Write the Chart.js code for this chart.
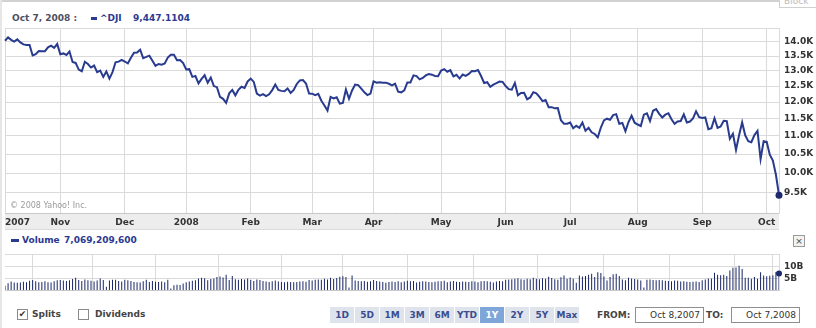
<!DOCTYPE html>
<html>
<head>
<meta charset="utf-8">
<title>^DJI 1Y</title>
<script src="https://cdn.jsdelivr.net/npm/chart.js@4.4.1/dist/chart.umd.min.js"></script>
<style>
  body { margin:0; width:816px; height:328px; background:#fff; position:relative; overflow:hidden;
         font-family:"DejaVu Sans", Verdana, sans-serif; }
  .abs { position:absolute; white-space:nowrap; }
  #topLine { left:0; top:0; width:780px; height:2px; background:#d2d2d2; }
  #leftLine { left:0; top:0; width:2px; height:328px; background:#e6e6e6; }
  #corner { left:779px; top:-6px; width:40px; height:12px; border:1px solid #d0d0d0; font-size:9px; color:#bbb; line-height:12px; padding-left:4px; }
  .hd { top:13px; font-size:9px; font-weight:bold; line-height:11px; }
  .sw { background:#2b3990; }
  #xband { left:5px; top:213px; width:774px; height:16px; background:#ededed; border-bottom:1px solid #dcdcdc; }
  #copy { left:10px; top:200px; font-size:8px; color:#9a9a9a; line-height:11px; }
  #closeBtn { left:793px; top:235px; width:10px; height:10px; border:1px solid #9a9a9a; background:#f2f2f2; font-size:9px; line-height:10px; text-align:center; color:#444; }
  .cb { top:309px; width:9px; height:9px; border:1px solid #8a8a8a; background:#fff; font-size:9px; line-height:9px; text-align:center; color:#333; }
  .lbl { top:309px; font-size:9px; font-weight:bold; color:#444; line-height:11px; }
  #ranges { left:330px; top:307px; height:16px; display:flex; }
  #ranges span { width:24px; height:16px; border-right:1px solid #fff; background:#dfe4ec; color:#3a4d8f;
                 font-size:9px; font-weight:bold; line-height:16px; text-align:center; }
  #ranges span.on { background:#7fa6d9; color:#fff; }
  .box { top:307px; width:64px; height:14px; border:1px solid #8e8e8e; font-size:9px; color:#333; line-height:14px; text-align:right; padding-right:3px; box-sizing:content-box; }
</style>
</head>
<body>
<div id="topLine" class="abs"></div>
<div id="leftLine" class="abs"></div>
<div id="corner" class="abs">Block</div>

<div class="abs hd" style="left:12px;color:#4d4f5e">Oct 7, 2008 :</div>
<div class="abs sw" style="left:91px;top:17px;width:6px;height:3px"></div>
<div class="abs hd" style="left:100px;color:#2b3990">^DJI</div>
<div class="abs hd" style="left:133px;color:#2b3990">9,447.1104</div>

<div id="xband" class="abs"></div>
<canvas id="priceChart" class="abs" width="816" height="230" style="left:0;top:0"></canvas>
<div id="copy" class="abs">© 2008 Yahoo! Inc.</div>

<div class="abs sw" style="left:11px;top:239px;width:8px;height:3px"></div>
<div class="abs hd" style="left:22px;top:235px;color:#2b3990">Volume</div>
<div class="abs hd" style="left:64px;top:235px;color:#2b3990">7,069,209,600</div>
<div id="closeBtn" class="abs">×</div>

<canvas id="volChart" class="abs" width="816" height="57" style="left:0;top:244px"></canvas>

<div class="abs cb" style="left:17px">✔</div>
<div class="abs lbl" style="left:32px">Splits</div>
<div class="abs cb" style="left:78px"></div>
<div class="abs lbl" style="left:95px">Dividends</div>

<div id="ranges" class="abs">
  <span>1D</span><span>5D</span><span>1M</span><span>3M</span><span>6M</span><span>YTD</span><span class="on">1Y</span><span>2Y</span><span>5Y</span><span>Max</span>
</div>
<div class="abs lbl" style="left:597px;top:310px">FROM:</div>
<div class="abs box" style="left:635px">Oct 8,2007</div>
<div class="abs lbl" style="left:706px;top:310px">TO:</div>
<div class="abs box" style="left:731px">Oct 7,2008</div>

<script>
// ^DJI daily closes, Oct 8 2007 - Oct 7 2008 (one array per month)
const closeOct07 = [14044, 14165, 14079, 14015, 14093, 13985, 13913, 13892, 13889, 13522, 13567, 13676, 13675, 13672, 13807, 13870, 13792, 13930];
const closeNov07 = [13568, 13595, 13543, 13661, 13300, 13267, 13043, 12988, 13307, 13231, 13111, 13177, 12958, 13011, 12799, 12981, 12743, 12959, 13289, 13312, 13372];
const closeDec07 = [13315, 13249, 13445, 13620, 13626, 13727, 13433, 13474, 13518, 13340, 13167, 13232, 13207, 13246, 13451, 13549, 13552, 13360, 13366, 13265];
const closeJan08 = [13044, 13057, 12800, 12827, 12589, 12735, 12853, 12606, 12778, 12501, 12466, 12159, 12099, 11971, 12270, 12379, 12207, 12384, 12480, 12443, 12650];
const closeFeb08 = [12743, 12635, 12265, 12200, 12247, 12182, 12240, 12373, 12552, 12377, 12348, 12337, 12427, 12284, 12381, 12570, 12685, 12694, 12582, 12266];
const closeMar08 = [12259, 12214, 12255, 12040, 11894, 11740, 12157, 12110, 12146, 11951, 11972, 12393, 12100, 12361, 12549, 12533, 12423, 12302, 12216, 12263];
const closeApr08 = [12654, 12609, 12626, 12609, 12612, 12576, 12527, 12582, 12325, 12302, 12362, 12619, 12620, 12849, 12825, 12720, 12763, 12849, 12892, 12872, 12831, 12820];
const closeMay08 = [13010, 13058, 12970, 13021, 12814, 12867, 12746, 12876, 12832, 12898, 12993, 12987, 13028, 12829, 12601, 12626, 12480, 12548, 12594, 12646, 12638];
const closeJun08 = [12504, 12403, 12390, 12604, 12210, 12280, 12290, 12084, 12142, 12307, 12269, 12160, 12029, 12063, 11843, 11842, 11807, 11812, 11453, 11347, 11350];
const closeJul08 = [11382, 11216, 11289, 11232, 11384, 11147, 11229, 11101, 11055, 10963, 11239, 11447, 11497, 11467, 11603, 11632, 11349, 11371, 11131, 11398, 11584, 11378];
const closeAug08 = [11326, 11284, 11616, 11656, 11431, 11734, 11782, 11642, 11533, 11616, 11660, 11479, 11349, 11417, 11430, 11628, 11386, 11413, 11503, 11715, 11544];
const closeSep08 = [11517, 11533, 11188, 11221, 11511, 11231, 11269, 11434, 11422, 10918, 11059, 10610, 11020, 11388, 11016, 10854, 10825, 11022, 11143, 10365, 10851];
const closeOct08 = [10831, 10483, 10325, 9956, 9447.11];

// volume, billions of shares
const volOct07 = [2.0, 3.0, 3.8, 3.4, 3.3, 3.4, 3.7, 3.5, 4.1, 4.4, 3.9, 3.5, 3.6, 3.9, 3.5, 3.4, 3.9, 4.3];
const volNov07 = [4.4, 4.2, 4.0, 4.3, 4.8, 5.3, 4.4, 4.0, 4.6, 4.3, 4.1, 3.8, 4.2, 5.0, 4.4, 1.6, 4.2, 4.5, 4.5, 4.0, 3.8];
const volDec07 = [4.5, 4.3, 4.0, 3.6, 3.5, 3.4, 3.9, 4.5, 3.6, 4.0, 3.7, 3.6, 3.8, 3.5, 4.5, 0.9, 2.2, 2.4, 2.3, 2.9];
const volJan08 = [3.5, 3.8, 4.1, 4.3, 5.0, 5.3, 5.1, 4.3, 4.8, 5.0, 5.6, 5.8, 5.4, 6.6, 4.4, 6.0, 4.7, 4.5, 4.8, 4.6, 5.0];
const volFeb08 = [4.5, 4.0, 4.6, 4.4, 4.0, 3.8, 3.6, 3.9, 4.2, 3.8, 3.6, 3.5, 3.7, 3.6, 3.5, 3.6, 3.8, 3.9, 3.7, 4.4];
const volMar08 = [4.2, 4.5, 4.6, 4.5, 4.9, 4.6, 5.3, 4.8, 5.2, 5.7, 5.9, 5.6, 1.3, 6.3, 4.2, 4.0, 3.9, 4.0, 3.7, 3.9];
const volApr08 = [4.4, 4.0, 3.8, 3.6, 3.3, 3.6, 3.8, 3.6, 3.9, 3.5, 3.8, 4.1, 3.9, 4.0, 3.4, 3.7, 3.9, 3.8, 3.6, 3.5, 3.7, 3.9];
const volMay08 = [3.9, 4.1, 3.5, 3.8, 4.0, 3.7, 3.6, 3.8, 3.7, 3.6, 3.9, 3.8, 3.5, 3.9, 4.0, 3.9, 3.7, 3.4, 3.8, 4.0, 3.9];
const volJun08 = [4.5, 4.6, 4.7, 4.9, 5.1, 4.7, 4.5, 4.9, 4.7, 5.3, 4.9, 4.7, 5.1, 4.9, 5.7, 5.2, 4.7, 4.5, 5.5, 6.3, 4.9];
const volJul08 = [5.4, 4.9, 3.3, 6.3, 5.8, 6.1, 6.6, 7.0, 5.6, 7.6, 7.3, 5.8, 4.2, 5.6, 6.8, 7.0, 6.0, 4.6, 4.3, 5.3, 5.0, 4.8];
const volAug08 = [4.6, 4.2, 1.3, 4.5, 4.6, 4.4, 4.3, 4.4, 4.3, 4.1, 4.0, 3.9, 4.2, 4.1, 3.8, 3.9, 3.7, 3.6, 3.7, 3.8, 3.6];
const volSep08 = [4.3, 4.6, 5.0, 5.0, 7.4, 6.6, 6.4, 6.6, 6.0, 8.3, 9.5, 9.6, 10.3, 9.0, 5.3, 5.3, 4.9, 5.6, 4.9, 7.6, 6.3];
const volOct08 = [5.9, 6.2, 6.4, 7.7, 7.07];

// x axis: trading-day index of each month start, and its label
const monthIdx = [0, 18, 39, 59, 80, 100, 120, 142, 163, 184, 206, 227, 248, 252];
const monthLabels = ['2007', 'Nov', 'Dec', '2008', 'Feb', 'Mar', 'Apr', 'May', 'Jun', 'Jul', 'Aug', 'Sep', 'Oct', ''];

// y axes
const priceTicks = [9500, 10000, 10500, 11000, 11500, 12000, 12500, 13000, 13500, 14000];
const priceTickLabels = ['9.5K', '10.0K', '10.5K', '11.0K', '11.5K', '12.0K', '12.5K', '13.0K', '13.5K', '14.0K'];
const volTicks = [0, 5, 10, 15];
const volTickLabels = ['', '5B', '10B', ''];

const closes = [].concat(closeOct07, closeNov07, closeDec07, closeJan08, closeFeb08, closeMar08,
  closeApr08, closeMay08, closeJun08, closeJul08, closeAug08, closeSep08, closeOct08);
const volumes = [].concat(volOct07, volNov07, volDec07, volJan08, volFeb08, volMar08,
  volApr08, volMay08, volJun08, volJul08, volAug08, volSep08, volOct08);
const days = closes.map((_, i) => i);

const LINE = '#283b8e', DOT = '#1c2a6c', BAR = '#1a2666', GRID = '#dadada';
const tickFont = { family: 'DejaVu Sans', size: 9, weight: 'bold' };
const lastDot = (n, r) => ctx => ctx.dataIndex === n - 1 ? r : 0;

Chart.defaults.font.family = 'DejaVu Sans';

const monthAxis = (showLabels) => ({
  type: 'category',
  offset: false,
  afterBuildTicks: s => { s.ticks = monthIdx.map(v => ({ value: v })); },
  grid: { color: GRID, drawTicks: false },
  border: { color: '#c8c8c8' },
  ticks: showLabels
    ? { autoSkip: false, maxRotation: 0, align: 'inner', padding: 4, color: '#333', font: tickFont,
        callback: (v, i) => monthLabels[i] }
    : { display: false }
});

new Chart(document.getElementById('priceChart'), {
  type: 'line',
  data: {
    labels: days,
    datasets: [{
      data: closes,
      borderColor: LINE,
      borderWidth: 2,
      tension: 0,
      fill: false,
      pointRadius: lastDot(closes.length, 3.5),
      pointBackgroundColor: DOT,
      pointBorderWidth: 0
    }]
  },
  options: {
    responsive: false, animation: false, devicePixelRatio: 1,
    layout: { padding: { left: 5, top: 28, right: 0, bottom: 0 } },
    plugins: { legend: { display: false }, tooltip: { enabled: false } },
    scales: {
      x: Object.assign(monthAxis(true), { afterFit: s => { s.height = 17; } }),
      y: {
        type: 'logarithmic',
        position: 'right',
        min: 9024, max: 14512,
        afterBuildTicks: s => {
          s.ticks = priceTicks.map(v => ({ value: v }));
          s.ticks.push({ value: s.max }); // top frame line
        },
        afterFit: s => { s.width = 37; },
        grid: { color: GRID, drawTicks: false },
        border: { color: GRID },
        ticks: { padding: 5, color: '#333', font: tickFont, callback: (v, i) => priceTickLabels[i] || '' }
      }
    }
  }
});

new Chart(document.getElementById('volChart'), {
  data: {
    labels: days,
    datasets: [
      { type: 'bar', data: volumes, backgroundColor: BAR, barThickness: 1, inflateAmount: 0, order: 2 },
      { type: 'line', data: volumes, showLine: false, pointRadius: lastDot(volumes.length, 3),
        pointBackgroundColor: DOT, pointBorderWidth: 0, order: 1 }
    ]
  },
  options: {
    responsive: false, animation: false, devicePixelRatio: 1,
    layout: { padding: { left: 5, top: 6, right: 0, bottom: 1 } },
    plugins: { legend: { display: false }, tooltip: { enabled: false } },
    scales: {
      x: monthAxis(false),
      y: {
        position: 'right',
        min: 0, max: 15,
        afterBuildTicks: s => { s.ticks = volTicks.map(v => ({ value: v })); },
        afterFit: s => { s.width = 37; },
        grid: { color: GRID, drawTicks: false },
        border: { color: GRID },
        ticks: { padding: 5, color: '#333', font: tickFont, callback: (v, i) => volTickLabels[i] }
      }
    }
  }
});
</script>
</body>
</html>
